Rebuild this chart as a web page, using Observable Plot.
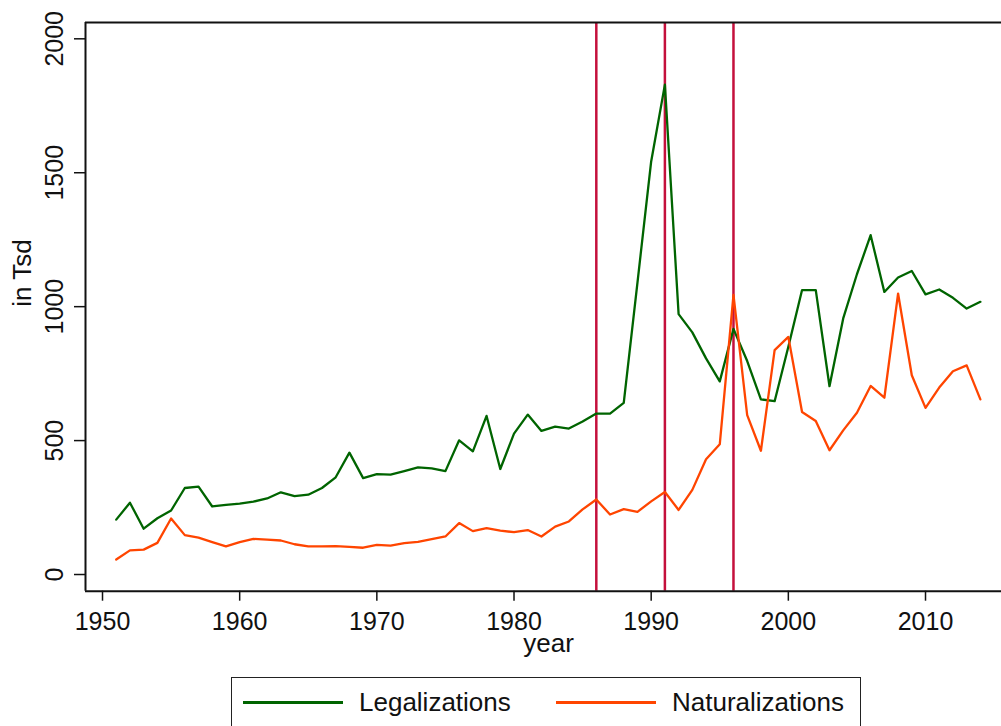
<!DOCTYPE html>
<html>
<head>
<meta charset="utf-8">
<script src="https://cdn.jsdelivr.net/npm/d3@7"></script>
<script src="https://cdn.jsdelivr.net/npm/@observablehq/plot@0.6"></script>
<style>
  html, body { margin: 0; padding: 0; background: #fff; }
  body { width: 1001px; height: 726px; overflow: hidden; font-family: "Liberation Sans", Arial, sans-serif; }
  #legend { position: relative; margin-left: 231px; margin-top: 7px; width: 630px; height: 70px;
            border: 1.6px solid #222; box-sizing: border-box; }
  .sw { position: absolute; height: 3px; width: 100px; top: 23px; }
  .lt { position: absolute; top: 8px; font-size: 26px; color: #111; line-height: 32px; }
</style>
</head>
<body>
<div id="chart"></div>
<div id="legend">
  <div class="sw" style="left:11px;background:#006400"></div>
  <div class="lt" style="left:127px">Legalizations</div>
  <div class="sw" style="left:324px;background:#ff4500"></div>
  <div class="lt" style="left:440px">Naturalizations</div>
</div>
<script>
const years = [1951,1952,1953,1954,1955,1956,1957,1958,1959,1960,1961,1962,1963,1964,1965,1966,1967,1968,1969,1970,
  1971,1972,1973,1974,1975,1976,1977,1978,1979,1980,1981,1982,1983,1984,1985,1986,1987,1988,1989,1990,
  1991,1992,1993,1994,1995,1996,1997,1998,1999,2000,2001,2002,2003,2004,2005,2006,2007,2008,2009,2010,
  2011,2012,2013,2014];
const legalizations = [205,268,171,210,239,323,328,254,260,265,272,284,307,293,298,323,363,455,360,375,
  373,386,400,396,386,501,460,592,394,526,597,536,552,545,571,601,601,641,1090,1542,
  1829,972,904,807,721,917,797,654,647,850,1062,1062,703,956,1121,1267,1055,1109,1133,1046,
  1064,1033,993,1018];
const naturalizations = [56,90,93,118,209,147,138,121,105,121,133,130,127,113,105,105,106,103,100,111,
  108,117,122,132,142,192,162,173,164,158,166,142,179,198,243,280,224,244,234,273,
  308,241,316,430,486,1044,595,462,838,887,607,573,464,538,604,704,660,1049,744,622,
  698,759,781,654];
const reformYears = [1986, 1991, 1996];
const xTicks = [1950, 1960, 1970, 1980, 1990, 2000, 2010];
const yTicks = [0, 500, 1000, 1500, 2000];

const legData = years.map((year, i) => ({year, value: legalizations[i]}));
const natData = years.map((year, i) => ({year, value: naturalizations[i]}));

const xDom = [1948.76, 2015.54];
const yDom = [-62.3, 2060.9];

const chart = Plot.plot({
  width: 1001,
  height: 670,
  marginLeft: 85,
  marginRight: 0,
  marginTop: 22,
  marginBottom: 79.3,
  style: {fontFamily: "Liberation Sans, Arial, sans-serif", fontSize: "25px", color: "#111", background: "#fff"},
  x: {domain: xDom},
  y: {domain: yDom},
  marks: [
    Plot.ruleX(reformYears, {stroke: "#c4103c", strokeWidth: 2.5}),
    Plot.line(legData, {x: "year", y: "value", stroke: "#006400", strokeWidth: 2.3}),
    Plot.line(natData, {x: "year", y: "value", stroke: "#ff4500", strokeWidth: 2.3}),
    Plot.ruleY([yDom[0]], {stroke: "#111", strokeWidth: 2}),
    Plot.ruleY([yDom[1]], {stroke: "#111", strokeWidth: 2}),
    Plot.ruleX([xDom[0]], {stroke: "#111", strokeWidth: 2}),
    Plot.axisX({ticks: xTicks, tickFormat: d => String(d), tickSize: 10, tickPadding: 11, label: null, strokeWidth: 1.5}),
    Plot.axisY({ticks: yTicks, tickFormat: d => String(d), tickSize: 11, tickPadding: 12, tickRotate: -90, label: null, strokeWidth: 1.5}),
    Plot.text(["in Tsd"], {frameAnchor: "left", dx: -63, rotate: -90, fontSize: 26}),
    Plot.text(["year"], {frameAnchor: "bottom", dx: 5, dy: 61, fontSize: 26})
  ]
});
document.getElementById("chart").appendChild(chart);
</script>
</body>
</html>
